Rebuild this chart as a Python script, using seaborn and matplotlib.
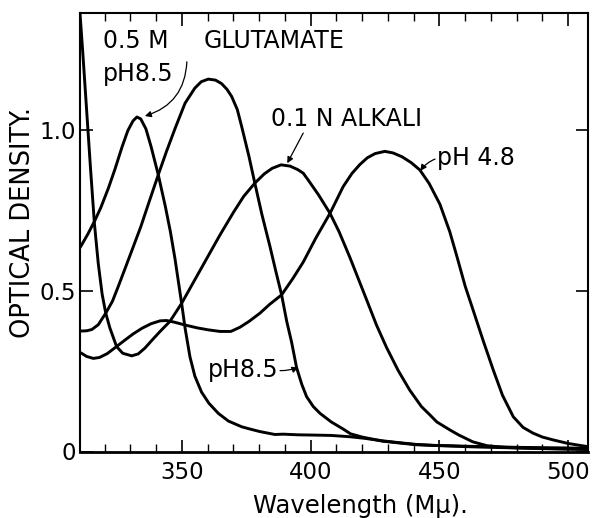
import matplotlib
matplotlib.use("Agg")
import matplotlib.pyplot as plt
from matplotlib.ticker import MultipleLocator
import numpy as np
import pandas as pd
import seaborn as sns

sns.set_style("ticks")
plt.rcParams['font.family'] = ['DejaVu Sans']
plt.rcParams['text.color'] = 'black'
plt.rcParams['axes.labelcolor'] = 'black'
plt.rcParams['xtick.color'] = 'black'
plt.rcParams['ytick.color'] = 'black'

# ---------------- data ----------------
x_ticks = [350, 400, 450, 500]
x_tick_labels = ["350", "400", "450", "500"]
y_ticks = [0, 0.5, 1.0]
y_tick_labels = ["0", "0.5", "1.0"]

# 0.5 M glutamate, pH 8.5 (peak ~332)
glu_w = [310.0, 311.0, 313.5, 316.2, 318.5, 321.5, 324.0, 326.7, 329.0, 331.0, 332.5,
         334.0, 336.0, 338.0, 340.8, 343.5, 345.5, 347.3, 349.9, 351.2, 353.1, 355.0,
         357.6, 360.5, 364.1, 368.0, 373.2, 376.4, 380.3, 386.1, 389.3, 395.0, 402.3,
         408.0, 415.2, 421.0, 428.2, 435.0, 441.1, 448.0, 454.1, 462.0, 470.0, 480.0,
         490.0, 500.0, 507.7]
glu_od = [0.630, 0.643, 0.678, 0.720, 0.760, 0.822, 0.880, 0.948, 1.000, 1.030, 1.042,
          1.036, 1.005, 0.950, 0.862, 0.765, 0.685, 0.600, 0.460, 0.385, 0.295, 0.235,
          0.185, 0.150, 0.119, 0.095, 0.077, 0.070, 0.062, 0.053, 0.054, 0.052, 0.051,
          0.050, 0.046, 0.041, 0.033, 0.027, 0.022, 0.019, 0.018, 0.016, 0.015, 0.013,
          0.012, 0.011, 0.010]

# pH 8.5 (peak ~360)
ph85_w = [310.0, 313.0, 315.0, 317.5, 320.4, 323.0, 325.3, 328.0, 331.1, 334.0, 337.0,
          340.8, 344.0, 347.5, 351.2, 355.0, 357.5, 360.2, 363.0, 365.4, 367.5, 369.3,
          371.5, 373.2, 376.0, 378.3, 381.0, 384.2, 386.5, 388.7, 390.7, 392.6, 394.5,
          396.5, 398.4, 401.0, 403.6, 408.0, 412.6, 415.5, 420.0, 428.0, 441.0, 454.0,
          465.0, 480.0, 495.0, 507.7]
ph85_od = [0.375, 0.376, 0.380, 0.395, 0.431, 0.468, 0.515, 0.572, 0.638, 0.700, 0.772,
           0.862, 0.935, 1.010, 1.085, 1.132, 1.152, 1.160, 1.157, 1.146, 1.128, 1.106,
           1.065, 1.012, 0.920, 0.836, 0.740, 0.638, 0.560, 0.488, 0.405, 0.340, 0.262,
           0.210, 0.171, 0.140, 0.119, 0.092, 0.070, 0.055, 0.045, 0.032, 0.021, 0.017,
           0.014, 0.011, 0.009, 0.008]

# 0.1 N alkali (peak ~388)
alk_w = [310.0, 311.5, 313.0, 314.5, 316.0, 317.5, 319.0, 320.4, 322.0, 324.6, 327.0,
         330.5, 333.0, 335.6, 338.5, 341.5, 345.3, 349.9, 355.0, 361.5, 364.8, 370.0,
         374.0, 378.3, 382.0, 385.0, 388.5, 392.0, 395.0, 397.1, 399.0, 403.0, 407.5,
         411.0, 415.2, 418.4, 421.6, 425.5, 429.4, 434.0, 438.4, 443.0, 446.3, 449.0,
         454.1, 457.6, 463.0, 468.5, 475.0, 485.0, 495.0, 507.7]
alk_od = [1.410, 1.240, 1.060, 0.880, 0.710, 0.585, 0.490, 0.431, 0.385, 0.327, 0.306,
          0.298, 0.304, 0.322, 0.348, 0.374, 0.405, 0.462, 0.535, 0.628, 0.675, 0.745,
          0.795, 0.836, 0.865, 0.882, 0.893, 0.889, 0.878, 0.867, 0.846, 0.800, 0.742,
          0.685, 0.605, 0.540, 0.475, 0.395, 0.325, 0.252, 0.192, 0.140, 0.114, 0.092,
          0.067, 0.051, 0.030, 0.018, 0.013, 0.010, 0.008, 0.006]

# pH 4.8 (peak ~428)
ph48_w = [310.0, 311.0, 313.0, 315.6, 318.0, 321.0, 324.6, 328.0, 331.0, 334.5, 338.0,
          341.5, 344.0, 347.0, 351.2, 356.0, 360.2, 364.8, 369.0, 372.5, 376.0, 380.3,
          384.0, 388.7, 393.0, 397.1, 402.0, 407.5, 412.6, 416.0, 419.1, 422.0, 425.0,
          428.8, 432.0, 435.5, 439.0, 442.4, 446.0, 450.2, 454.0, 456.7, 460.0, 463.1,
          467.0, 470.9, 474.5, 478.7, 482.5, 486.4, 490.0, 494.2, 500.0, 507.7]
ph48_od = [0.310, 0.306, 0.296, 0.290, 0.293, 0.305, 0.327, 0.348, 0.366, 0.384, 0.398,
           0.407, 0.408, 0.403, 0.394, 0.385, 0.379, 0.374, 0.374, 0.387, 0.405, 0.431,
           0.458, 0.488, 0.538, 0.590, 0.665, 0.742, 0.825, 0.866, 0.894, 0.915, 0.928,
           0.935, 0.930, 0.918, 0.900, 0.877, 0.835, 0.770, 0.685, 0.610, 0.515, 0.440,
           0.345, 0.254, 0.175, 0.108, 0.075, 0.057, 0.045, 0.036, 0.025, 0.015]

curve_names = ["glutamate pH 8.5", "pH 8.5", "0.1 N alkali", "pH 4.8"]

frames = []
for name, w, od in zip(curve_names, [glu_w, ph85_w, alk_w, ph48_w],
                       [glu_od, ph85_od, alk_od, ph48_od]):
    frames.append(pd.DataFrame({"wavelength": w, "od": od, "curve": name}))
df = pd.concat(frames, ignore_index=True)

# ---------------- figure ----------------
W, H = 596, 518
fig = plt.figure(figsize=(W / 100, H / 100), dpi=100)
ax = fig.add_axes([80 / W, 1 - 451.5 / H, 508 / W, 438.5 / H])

sns.lineplot(data=df, x="wavelength", y="od", hue="curve", estimator=None,
             palette={n: "black" for n in curve_names}, linewidth=2.1,
             legend=False, ax=ax)
for ln in ax.get_lines():
    ln.set_solid_joinstyle("round")

ax.set_xlim(310.4, 507.7)
ax.set_ylim(0, 1.366)

ax.set_xticks(x_ticks)
ax.set_xticklabels(x_tick_labels)
ax.set_yticks(y_ticks)
ax.set_yticklabels(y_tick_labels)
ax.xaxis.set_minor_locator(MultipleLocator(10))

ax.tick_params(axis="x", which="major", direction="in", length=9, width=1.2,
               top=True, bottom=True, labelsize=16.5, pad=7)
ax.tick_params(axis="x", which="minor", direction="in", length=6, width=1.0,
               top=True, bottom=True)
ax.tick_params(axis="y", which="major", direction="in", length=9, width=1.2,
               left=True, right=True, labelsize=16.5, pad=3)

for s in ax.spines.values():
    s.set_visible(True)
    s.set_linewidth(1.5)
    s.set_color("black")
ax.spines["bottom"].set_linewidth(2.0)

ax.set_xlabel("Wavelength (Mμ).", fontsize=17.5)
ax.xaxis.set_label_coords(0.553, -0.124)
ax.xaxis.label.set_va("center")
ax.set_ylabel("OPTICAL DENSITY.", fontsize=18.5)
ax.yaxis.set_label_coords(-0.113, 0.523)
ax.yaxis.label.set_va("center")

fs = 17
ax.text(319.3, 1.258, "0.5 M", fontsize=fs, ha="left", va="baseline")
ax.text(358.3, 1.258, "GLUTAMATE", fontsize=fs, ha="left", va="baseline")
ax.text(319.3, 1.153, "pH8.5", fontsize=fs, ha="left", va="baseline")
ax.text(384.6, 1.0125, "0.1 N ALKALI", fontsize=fs, ha="left", va="baseline")
ax.text(448.9, 0.893, "pH 4.8", fontsize=fs, ha="left", va="baseline")
ax.text(360.0, 0.233, "pH8.5", fontsize=fs, ha="left", va="baseline")

arrow = dict(arrowstyle="-|>", lw=0.9, color="black", mutation_scale=9,
             shrinkA=0, shrinkB=0)
ax.annotate("", xy=(335.6, 1.045), xytext=(351.9, 1.214),
            arrowprops=dict(arrow, connectionstyle="arc3,rad=-0.35"))
ax.annotate("", xy=(390.9, 0.898), xytext=(397.1, 0.992),
            arrowprops=dict(arrow, connectionstyle="arc3,rad=0"))
ax.annotate("", xy=(442.6, 0.874), xytext=(448.3, 0.911),
            arrowprops=dict(arrow, connectionstyle="arc3,rad=0.15"))
ax.annotate("", xy=(395.2, 0.262), xytext=(388.1, 0.252),
            arrowprops=dict(arrow, connectionstyle="arc3,rad=0.1"))

fig.savefig("out.png", dpi=100, facecolor="white")
